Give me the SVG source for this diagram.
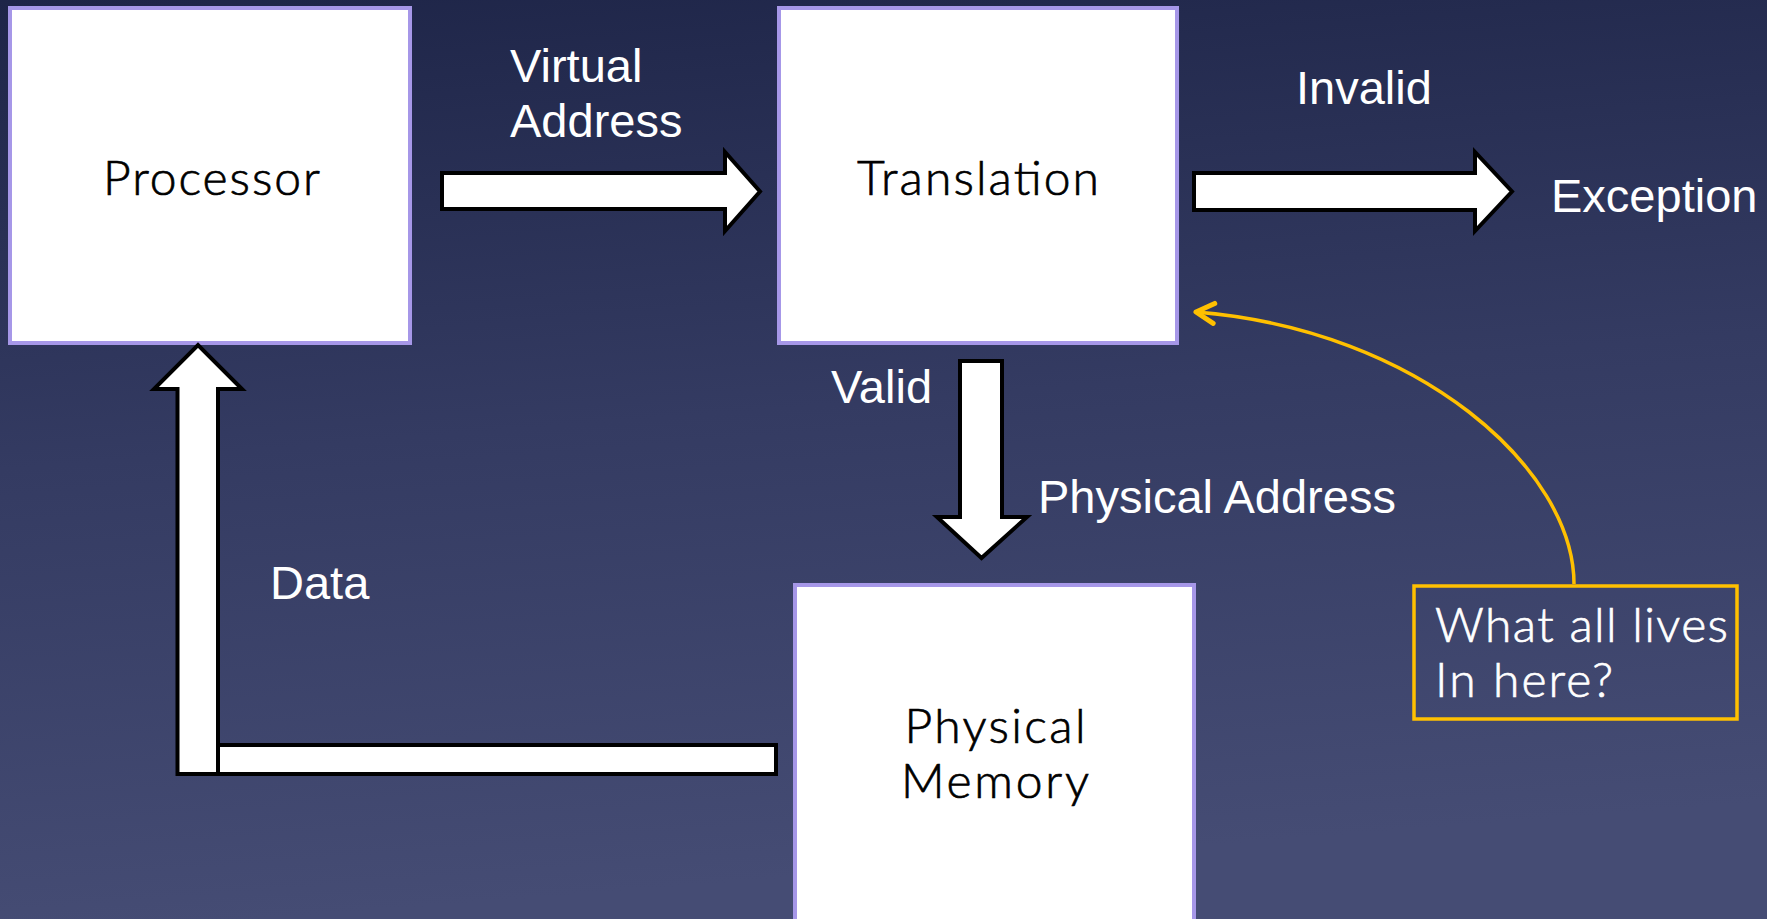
<svg xmlns="http://www.w3.org/2000/svg" width="1767" height="919" viewBox="0 0 1767 919">
<defs>
<linearGradient id="bg" x1="0" y1="0" x2="0.15" y2="1">
<stop offset="0" stop-color="#1e2548"/>
<stop offset="0.5" stop-color="#343b62"/>
<stop offset="1" stop-color="#454c74"/>
</linearGradient>
<marker id="chev" markerUnits="userSpaceOnUse" markerWidth="30" markerHeight="30" refX="27" refY="15" orient="auto" viewBox="0 0 30 30">
<path d="M9,5 L27,15 L9,25" fill="none" stroke="#ffc000" stroke-width="5" stroke-linecap="round" stroke-linejoin="round"/>
</marker>
</defs>
<style>
.box{fill:#ffffff;stroke:#a697e8;stroke-width:4}
.blk{font-family:Lato,"Open Sans","DejaVu Sans",sans-serif;font-size:48px;font-weight:300;fill:#000000;stroke:#000000;stroke-width:0.7}
.lbl{font-family:"Liberation Sans",Arial,sans-serif;font-size:47px;fill:#ffffff}
.arr{fill:#ffffff;stroke:#000000;stroke-width:4;stroke-linejoin:miter}
.note{fill:none;stroke:#ffc000;stroke-width:3.5}
.ntxt{font-family:Lato,"Open Sans","DejaVu Sans",sans-serif;font-size:48px;font-weight:300;fill:#ffffff;stroke:#ffffff;stroke-width:0.7}
</style>
<rect x="0" y="0" width="1767" height="919" fill="url(#bg)"/>

<g id="processor">
<rect class="box" x="10" y="8" width="400" height="335"/>
<text class="blk" x="211.5" y="195" text-anchor="middle" textLength="217">Processor</text>
</g>

<g id="translation">
<rect class="box" x="779" y="8" width="398" height="335"/>
<text class="blk" x="978" y="195" text-anchor="middle" textLength="242">Translation</text>
</g>

<g id="physical-memory">
<rect class="box" x="795" y="585" width="399" height="360"/>
<text class="blk" x="995" y="743" text-anchor="middle" textLength="181">Physical</text>
<text class="blk" x="995" y="798" text-anchor="middle" textLength="188">Memory</text>
</g>

<g id="exception">
<text class="lbl" x="1551" y="212">Exception</text>
</g>

<g id="note">
<rect class="note" x="1414" y="586" width="323" height="133"/>
<text class="ntxt" x="1435" y="642" textLength="293">What all lives</text>
<text class="ntxt" x="1435" y="697" textLength="178">In here?</text>
</g>

<g id="connectors">
<polygon class="arr" points="442,173 725,173 725,152 760,191.5 725,231 725,209 442,209"/>
<text class="lbl" x="510" y="82">Virtual</text>
<text class="lbl" x="510" y="137">Address</text>

<polygon class="arr" points="1194,173 1475,173 1475,152 1512,191.5 1475,231 1475,210 1194,210"/>
<text class="lbl" x="1296" y="104">Invalid</text>

<polygon class="arr" points="960,361 1002,361 1002,517 1027,517 981.5,558 937,517 960,517"/>
<text class="lbl" x="831" y="403">Valid</text>
<text class="lbl" x="1038" y="513">Physical Address</text>

<polygon class="arr" points="177.5,774 177.5,389 154,389 198,345 242,389 218,389 218,774"/>
<rect class="arr" x="218" y="745" width="558" height="29"/>
<text class="lbl" x="270" y="599">Data</text>

<path class="note" d="M1574,584 C1574,470 1420,330 1196,312" marker-end="url(#chev)"/>
</g>
</svg>
